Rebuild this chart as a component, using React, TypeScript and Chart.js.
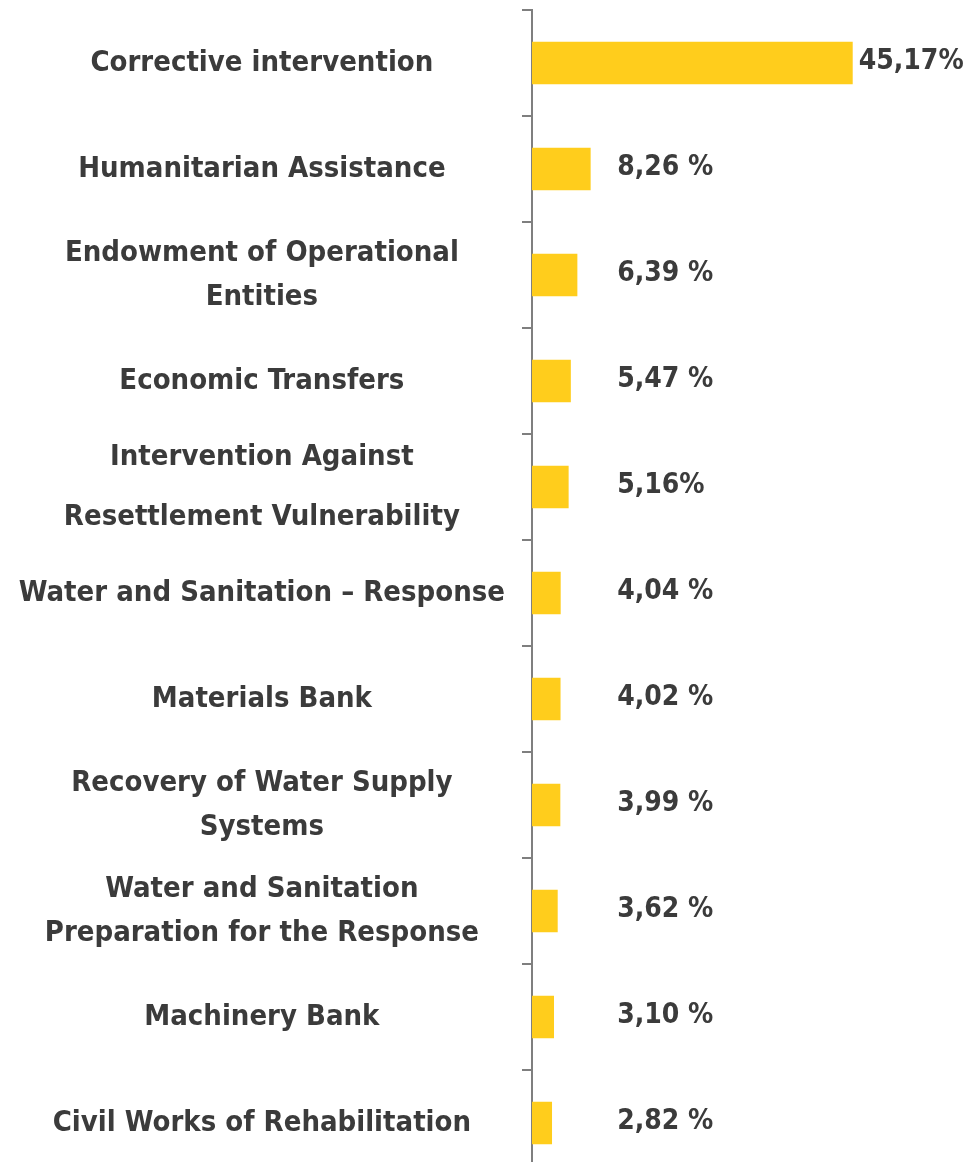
import React, { useEffect, useRef } from "react";
import { Chart, registerables } from "chart.js";

Chart.register(...registerables);

const categories: (string | string[])[] = [
  "Corrective intervention",
  "Humanitarian Assistance",
  ["Endowment of Operational", "Entities"],
  "Economic Transfers",
  ["Intervention Against", "Resettlement Vulnerability"],
  "Water and Sanitation – Response",
  "Materials Bank",
  ["Recovery of Water Supply", "Systems"],
  ["Water and Sanitation", "Preparation for the Response"],
  "Machinery Bank",
  "Civil Works of Rehabilitation",
];

const shares = [45.17, 8.26, 6.39, 5.47, 5.16, 4.04, 4.02, 3.99, 3.62, 3.1, 2.82];

const valueLabels = [
  "45,17%",
  "8,26 %",
  "6,39 %",
  "5,47 %",
  "5,16%",
  "4,04 %",
  "4,02 %",
  "3,99 %",
  "3,62 %",
  "3,10 %",
  "2,82 %",
];

const FONT = '"Liberation Sans Narrow", "DejaVu Sans Condensed", "Roboto Condensed", sans-serif';
const TEXT = "#3b3b3b";
const BAR = "#FFCD1C";
const AXIS = "#7f7f7f";

const valueLabelPlugin = {
  id: "valueLabels",
  afterDatasetsDraw(chart: any) {
    const ctx = chart.ctx;
    const meta = chart.getDatasetMeta(0);
    const xScale = chart.scales.x;
    ctx.save();
    ctx.fillStyle = TEXT;
    ctx.font = `bold 28px ${FONT}`;
    ctx.textAlign = "left";
    ctx.textBaseline = "middle";
    meta.data.forEach((bar: any, i: number) => {
      const x = Math.max(bar.x + 6, xScale.getPixelForValue(12));
      ctx.fillText(valueLabels[i], x, bar.y - 1);
    });
    ctx.restore();
  },
};

export default function App() {
  const canvasRef = useRef<HTMLCanvasElement | null>(null);

  useEffect(() => {
    if (!canvasRef.current) return;
    const chart = new Chart(canvasRef.current, {
      type: "bar",
      data: {
        labels: categories,
        datasets: [
          {
            data: shares,
            backgroundColor: BAR,
            borderWidth: 0,
            barPercentage: 0.4,
            categoryPercentage: 1,
          },
        ],
      },
      options: {
        indexAxis: "y",
        animation: false,
        responsive: true,
        maintainAspectRatio: false,
        layout: { padding: { top: 10, right: 15, bottom: 4, left: 0 } },
        plugins: {
          legend: { display: false },
          tooltip: { enabled: false },
          title: { display: false },
        },
        scales: {
          x: {
            display: false,
            min: 0,
            max: 60,
          },
          y: {
            afterFit: (scale: any) => {
              scale.width = 532;
              scale.paddingTop = 0;
              scale.paddingBottom = 0;
            },
            border: { display: true, color: AXIS, width: 2 },
            grid: {
              offset: true,
              drawOnChartArea: false,
              drawTicks: true,
              tickLength: 10,
              color: AXIS,
              lineWidth: 2,
            },
            ticks: {
              crossAlign: "center",
              padding: 17,
              color: TEXT,
              autoSkip: false,
              font: (c: any) => ({
                family: FONT,
                weight: "bold",
                size: 29,
                lineHeight: c.index === 4 ? "60px" : "44px",
              }),
            },
          },
        },
      },
      plugins: [valueLabelPlugin],
    });
    return () => chart.destroy();
  }, []);

  return (
    <div
      style={{
        position: "fixed",
        top: 0,
        left: 0,
        width: 973,
        height: 1162,
        overflow: "hidden",
        background: "#fff",
      }}
    >
      <div style={{ position: "relative", width: 973, height: 1180 }}>
        <canvas ref={canvasRef} />
      </div>
    </div>
  );
}
